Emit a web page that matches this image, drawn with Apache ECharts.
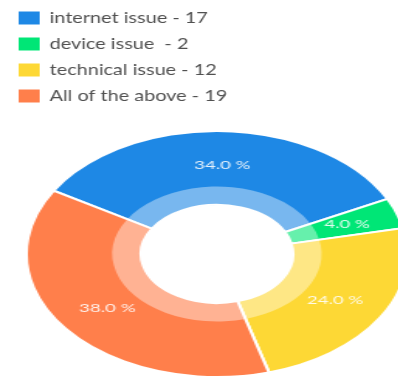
<!DOCTYPE html>
<html>
<head>
<meta charset="utf-8">
<script src="https://cdn.jsdelivr.net/npm/echarts@6/dist/echarts.min.js"></script>
<style>
  html, body { margin: 0; padding: 0; width: 398px; height: 377px; overflow: hidden; background: #fff; }
  #pie { position: absolute; left: 0; top: 0; width: 257px; height: 377px; transform: scaleX(1.55); transform-origin: 0 0; }
  #key { position: absolute; left: 0; top: 0; width: 320px; height: 112px; transform: scaleX(1.24); transform-origin: 0 0; }
</style>
</head>
<body>
<div id="pie"></div>
<div id="key"></div>
<script>
// Survey answers: which problem did you run into?
const categories = ['internet issue', 'device issue ', 'technical issue', 'All of the above'];
const counts = [17, 2, 12, 19];
const colors = ['#1E88E5', '#00E676', '#FDD835', '#FF7F4B'];

const sliceData = categories.map((name, i) => ({
  name: name,
  value: counts[i],
  itemStyle: { color: colors[i] }
}));

// Donut (drawn in a horizontally stretched box, so it renders as an oval)
const pie = echarts.init(document.getElementById('pie'), null, { renderer: 'canvas' });
pie.setOption({
  animation: false,
  series: [
    {
      type: 'pie',
      center: [140, 254],
      radius: [49, 123],
      startAngle: 149,
      clockwise: true,
      silent: true,
      itemStyle: { borderColor: '#ffffff', borderWidth: 2 },
      label: {
        show: true,
        position: 'inside',
        color: 'rgba(255,255,255,0.88)',
        fontFamily: 'Lato',
        fontSize: 12,
        formatter: p => p.percent.toFixed(1) + ' %'
      },
      labelLine: { show: false },
      data: sliceData
    },
    {
      // pale inner band
      type: 'pie',
      center: [140, 254],
      radius: [49, 67.5],
      startAngle: 149,
      clockwise: true,
      silent: true,
      z: 3,
      itemStyle: { color: 'rgba(255,255,255,0.4)', borderWidth: 0 },
      label: { show: false },
      labelLine: { show: false },
      data: categories.map((name, i) => ({ name: name, value: counts[i] }))
    }
  ]
});

// Legend with counts
const key = echarts.init(document.getElementById('key'), null, { renderer: 'canvas' });
key.setOption({
  animation: false,
  legend: {
    orient: 'vertical',
    left: 10,
    top: 5,
    itemWidth: 17,
    itemHeight: 13,
    itemGap: 10,
    icon: 'rect',
    selectedMode: false,
    textStyle: {
      color: '#505050',
      fontFamily: 'Lato',
      fontSize: 16,
      padding: [0, 0, 0, 3]
    },
    formatter: name => name + ' - ' + counts[categories.indexOf(name)],
    data: categories
  },
  series: [{
    type: 'pie',
    radius: [0, 0],
    center: [-100, -100],
    silent: true,
    label: { show: false },
    labelLine: { show: false },
    data: sliceData
  }]
});
</script>
</body>
</html>
